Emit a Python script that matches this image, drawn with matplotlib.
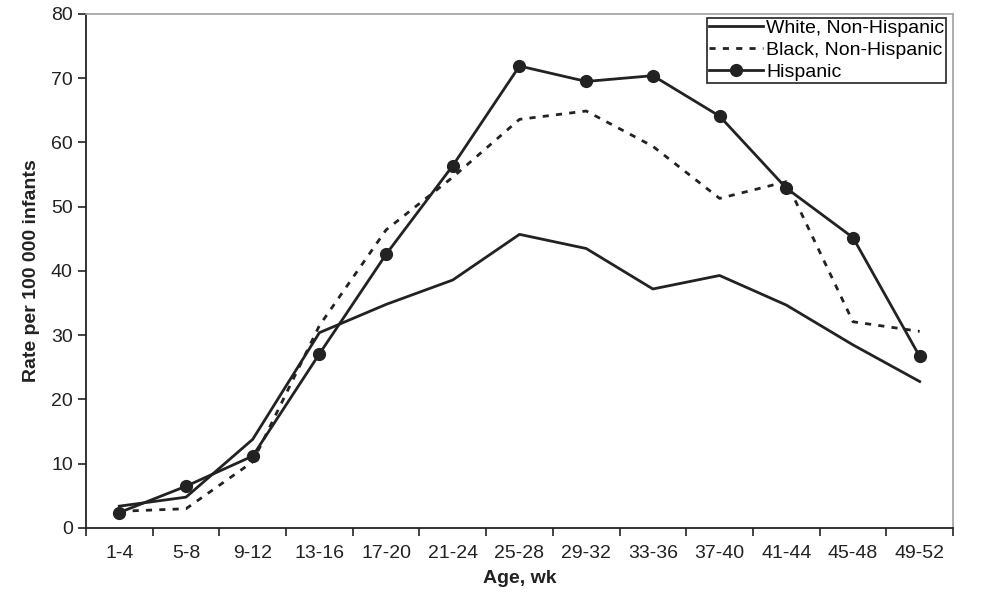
import matplotlib
matplotlib.use("Agg")
import matplotlib.pyplot as plt
import numpy as np

plt.rcParams['font.family'] = ['Liberation Sans', 'DejaVu Sans']

edades = ["1-4", "5-8", "9-12", "13-16", "17-20", "21-24", "25-28",
          "29-32", "33-36", "37-40", "41-44", "45-48", "49-52"]
blanco = [3.4, 4.8, 13.8, 30.4, 34.8, 38.6, 45.7, 43.5, 37.2, 39.3, 34.7, 28.5, 22.8]
negro = [2.6, 3.0, 10.3, 31.5, 46.4, 54.6, 63.6, 64.9, 59.4, 51.3, 53.9, 32.1, 30.6]
hispano = [2.4, 6.5, 11.2, 27.1, 42.6, 56.4, 71.9, 69.5, 70.4, 64.1, 52.9, 45.2, 26.7]

x = np.arange(len(edades))

fig = plt.figure(figsize=(9.88, 6), dpi=100)
ax = fig.add_axes([0.087, 0.12, 0.8776, 0.8567])

ax.plot(x, blanco, color="#222222", lw=2, label="White, Non-Hispanic")
ax.plot(x, negro, color="#222222", lw=2, ls=(0, (2.2, 2.6)), label="Black, Non-Hispanic")
ax.plot(x, hispano, color="#222222", lw=2, marker="o", markersize=8.5, label="Hispanic")

ax.set_xlim(-0.5, len(edades) - 0.5)
ax.set_ylim(0, 80)
ax.set_yticks(range(0, 81, 10))
ax.set_xticks(x)
ax.set_xticklabels(edades)
ax.set_xticks(np.arange(-0.5, len(edades), 1), minor=True)
ax.tick_params(axis="x", which="major", length=0, pad=12, labelsize=14, colors="#222222")
ax.tick_params(axis="x", which="minor", length=6, width=1.2, direction="out", color="#222222")
ax.tick_params(axis="y", length=6, width=1.2, direction="out", labelsize=14, colors="#222222")

for lado in ["left", "bottom"]:
    ax.spines[lado].set_color("#222222")
    ax.spines[lado].set_linewidth(1.3)
for lado in ["top", "right"]:
    ax.spines[lado].set_color("#a0a0a0")
    ax.spines[lado].set_linewidth(1.2)

ax.set_xlabel("Age, wk", fontsize=14, fontweight="bold", color="#222222", labelpad=6)
ax.set_ylabel("Rate per 100 000 infants", fontsize=14, fontweight="bold", color="#222222", labelpad=8)

leg = ax.legend(loc="upper right", bbox_to_anchor=(0.992, 0.993), fontsize=14,
                frameon=True, fancybox=False, borderpad=0.1, labelspacing=0.22,
                handlelength=2.8, handletextpad=0.15, borderaxespad=0)
leg.get_frame().set_edgecolor("#222222")
leg.get_frame().set_linewidth(1.2)
leg.get_frame().set_alpha(1)

plt.savefig("out.png", dpi=100)
